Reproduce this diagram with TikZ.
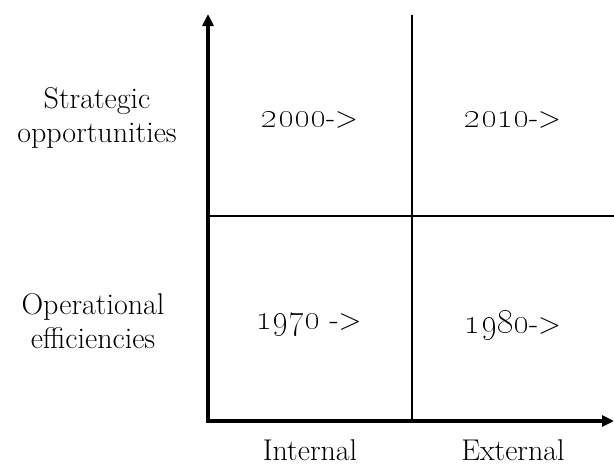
\documentclass[tikz,border=0pt]{standalone}
\usepackage{tikz}
\usetikzlibrary{arrows.meta, positioning, calc}

\newcommand{\yr}[1]{{\fontsize{34}{40}\selectfont\oldstylenums{#1}}}

\begin{document}
\begin{tikzpicture}[
      x=1pt, y=-1pt,
      label/.style={inner sep=0pt, align=center, font=\fontsize{30}{34}\selectfont},
      axis/.style={-{Triangle[length=12pt, width=11pt]}, line width=3.6pt},
      grid/.style={line width=1.1pt}
    ]
    \useasboundingbox (0,0) rectangle (614,466);

    \coordinate (O) at (208,421);
    \coordinate (ytop) at (208,14);
    \coordinate (xend) at (614,421);
    \coordinate (midtop) at (412,15);
    \coordinate (midbot) at (412,421);
    \coordinate (midleft) at (208,216);
    \coordinate (midright) at (614,216);

    \draw[grid] (midtop) -- (midbot);
    \draw[grid] (midleft) -- (midright);
    \draw[axis] ($(O)+(0,1.8)$) -- (ytop);
    \draw[axis] ($(O)+(-1.8,0)$) -- (xend);

    \node[label] (strat) at (97,118) {Strategic\\opportunities};
    \node[label] (oper) at (93,321) {Operational\\efficiencies};

    \node[label] (q00) at (310,120) {\yr{2000}->};
    \node[label] (q10) at (513,120) {\yr{2010}->};
    \node[label] (q70) at (309,325) {\yr{1970} ->};
    \node[label] (q80) at (513,325) {\yr{1980}->};

    \node[label] (int) at (310,450) {Internal};
    \node[label] (ext) at (513,450) {External};
  \end{tikzpicture}
\end{document}
